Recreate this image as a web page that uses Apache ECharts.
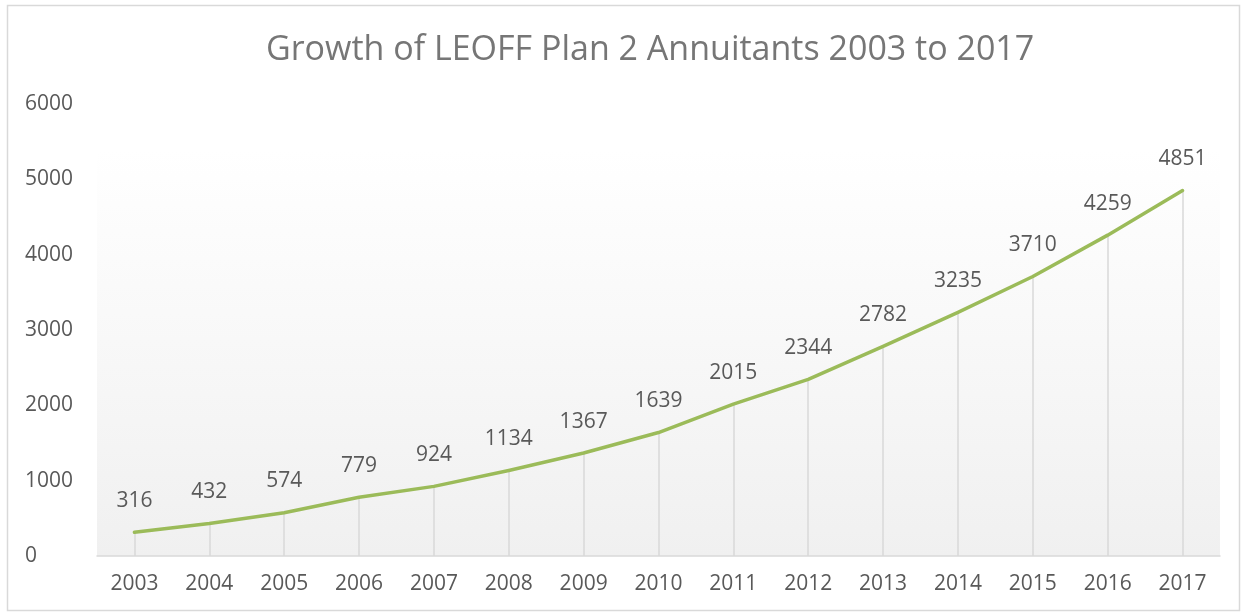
<!DOCTYPE html>
<html>
<head>
<meta charset="utf-8">
<script src="https://cdn.jsdelivr.net/npm/echarts@6/dist/echarts.min.js"></script>
<style>
  html, body { margin: 0; padding: 0; background: #fff; }
  #chart { width: 1244px; height: 614px; }
</style>
</head>
<body>
<div id="chart"></div>
<script>
const years = ["2003", "2004", "2005", "2006", "2007", "2008", "2009", "2010",
  "2011", "2012", "2013", "2014", "2015", "2016", "2017"];
const annuitants = [316, 432, 574, 779, 924, 1134, 1367, 1639, 2015, 2344, 2782, 3235, 3710, 4259, 4851];
const yTicks = { min: 0, max: 6000, interval: 1000 };

const font = "'Open Sans', 'Noto Sans', sans-serif";

// vertical drop lines from each point down to the axis
const dropLines = annuitants.map((v, i) => [
  { coord: [i, 0] },
  { coord: [i, v] }
]);

const chart = echarts.init(document.getElementById("chart"));
chart.setOption({
  animation: false,
  title: {
    text: "Growth of LEOFF Plan 2 Annuitants 2003 to 2017",
    left: 261,
    top: 28,
    textStyle: { fontFamily: font, fontSize: 34, fontWeight: "normal", color: "#767676" }
  },
  graphic: [
    {
      type: "rect",
      shape: { x: 7.5, y: 5.5, width: 1232, height: 605 },
      style: { fill: "none", stroke: "#d9d9d9", lineWidth: 1.5 },
      silent: true, z: -10
    },
    {
      type: "rect",
      shape: { x: 97, y: 150, width: 1123, height: 406 },
      style: {
        fill: new echarts.graphic.LinearGradient(0, 0, 0, 1, [
          { offset: 0, color: "#ffffff" },
          { offset: 1, color: "#f0f0f0" }
        ])
      },
      silent: true, z: -5
    }
  ],
  grid: { left: 97, right: 24, top: 104, bottom: 58 },
  xAxis: {
    type: "category",
    data: years,
    boundaryGap: true,
    axisLine: { lineStyle: { color: "#d9d9d9", width: 1.5 } },
    axisTick: { show: false },
    axisLabel: { color: "#595959", fontFamily: font, fontSize: 21, margin: 18 }
  },
  yAxis: {
    type: "value",
    min: yTicks.min,
    max: yTicks.max,
    interval: yTicks.interval,
    splitLine: { show: false },
    axisLine: { show: false },
    axisTick: { show: false },
    axisLabel: { color: "#595959", fontFamily: font, fontSize: 21, margin: 72, align: "left",
      formatter: v => String(v) }
  },
  series: [
    {
      type: "line",
      data: annuitants,
      symbol: "circle",
      symbolSize: 2,
      showSymbol: true,
      itemStyle: { color: "rgba(0,0,0,0)", borderWidth: 0 },
      lineStyle: { color: "#9bbb59", width: 3.5, cap: "round", join: "round" },
      label: {
        show: true,
        position: "top",
        distance: 20,
        color: "#595959",
        opacity: 1,
        fontFamily: font,
        fontSize: 21
      },
      markLine: {
        silent: true,
        symbol: "none",
        label: { show: false },
        lineStyle: { color: "#d9d9d9", type: "solid", width: 1.5 },
        data: dropLines,
        z: 1
      },
      z: 3
    }
  ]
});
</script>
</body>
</html>
